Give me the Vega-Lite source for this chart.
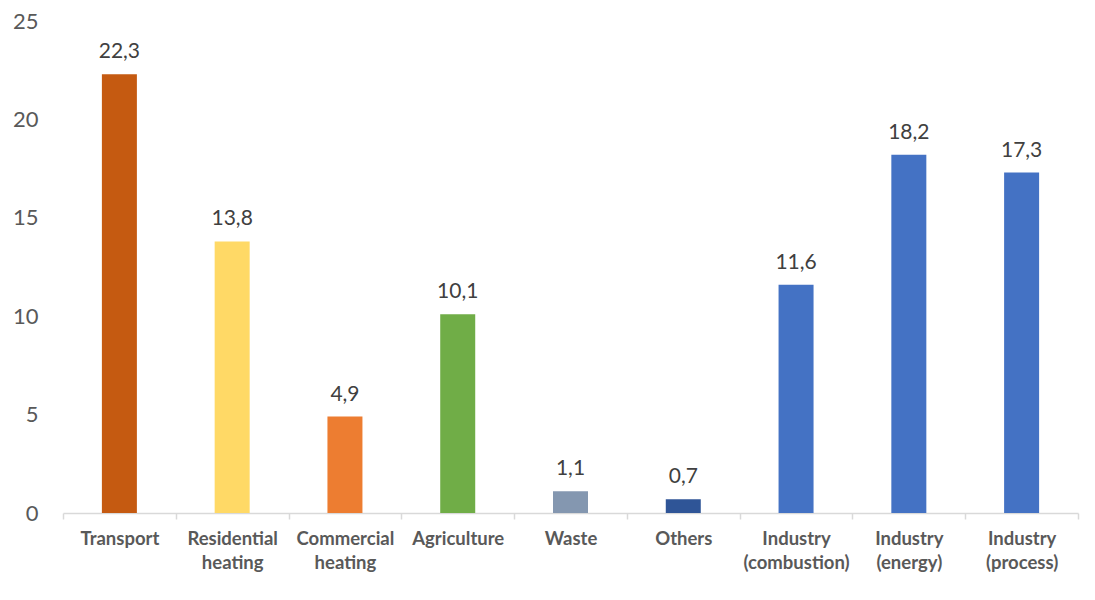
{
  "$schema": "https://vega.github.io/schema/vega-lite/v6.json",
  "width": 1015,
  "height": 492,
  "autosize": {"type": "none"},
  "padding": {"left": 63, "top": 21, "right": 17, "bottom": 87},
  "background": "white",
  "config": {
    "view": {"stroke": null},
    "font": "Lato",
    "locale": {"number": {"decimal": ",", "thousands": ".", "grouping": [3], "currency": ["", " €"]}}
  },
  "data": {
    "values": [
      {"sector": "Transport", "value": 22.3, "color": "#C55A11"},
      {"sector": "Residential heating", "value": 13.8, "color": "#FFD966"},
      {"sector": "Commercial heating", "value": 4.9, "color": "#ED7D31"},
      {"sector": "Agriculture", "value": 10.1, "color": "#70AD47"},
      {"sector": "Waste", "value": 1.1, "color": "#8497B0"},
      {"sector": "Others", "value": 0.7, "color": "#2F5597"},
      {"sector": "Industry (combustion)", "value": 11.6, "color": "#4472C4"},
      {"sector": "Industry (energy)", "value": 18.2, "color": "#4472C4"},
      {"sector": "Industry (process)", "value": 17.3, "color": "#4472C4"}
    ]
  },
  "encoding": {
    "x": {
      "field": "sector", "type": "nominal", "sort": null, "title": null,
      "scale": {"paddingInner": 0, "paddingOuter": 0},
      "axis": {
        "labelAngle": 0, "labelExpr": "split(datum.label, ' ')",
        "labelFont": "Lato", "labelFontWeight": "bold", "labelFontSize": 18.5, "labelColor": "#595959",
        "labelPadding": 10, "labelLineHeight": 24,
        "domainColor": "#D9D9D9", "domainWidth": 1.5, "tickColor": "#D9D9D9", "tickWidth": 1.5, "tickSize": 6,
        "tickBand": "extent"
      }
    },
    "y": {
      "field": "value", "type": "quantitative", "title": null,
      "scale": {"domain": [0, 25], "nice": false},
      "axis": {
        "values": [0, 5, 10, 15, 20, 25], "grid": false, "domain": false, "ticks": false,
        "labelFontSize": 22, "labelColor": "#595959", "labelPadding": 25, "labelFont": "Lato"
      }
    }
  },
  "layer": [
    {
      "mark": {"type": "bar", "size": 35},
      "encoding": {"color": {"field": "color", "type": "nominal", "scale": null}}
    },
    {
      "mark": {"type": "text", "baseline": "bottom", "dy": -12, "fontSize": 21, "color": "#404040", "font": "Lato"},
      "encoding": {"text": {"field": "value", "type": "quantitative", "format": ".1f"}}
    }
  ]
}
